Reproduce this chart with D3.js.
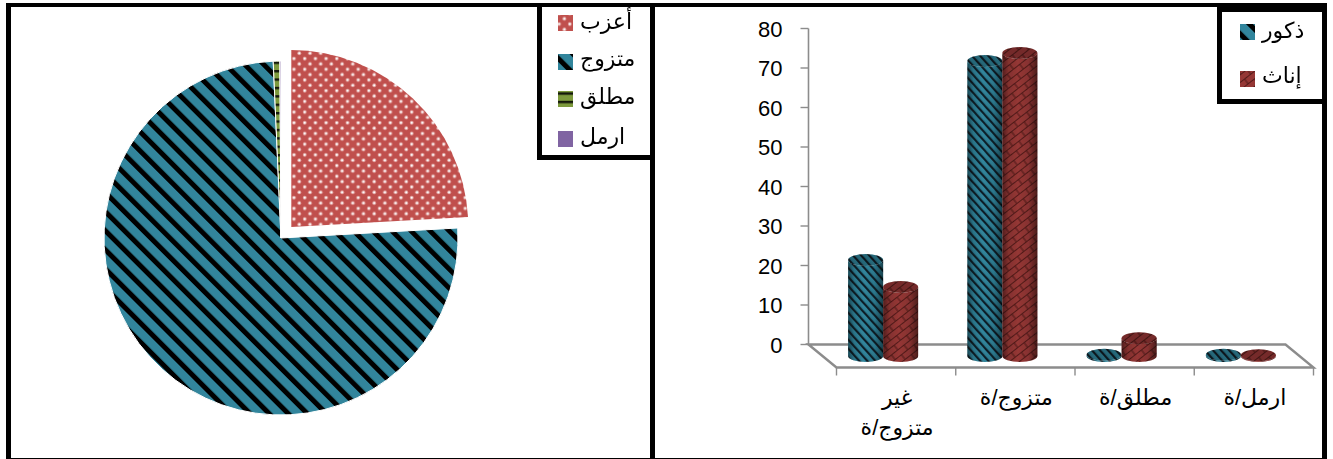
<!DOCTYPE html>
<html><head><meta charset="utf-8">
<script src="https://cdn.jsdelivr.net/npm/d3@7"></script>
<style>html,body{margin:0;padding:0;background:#fff;overflow:hidden}svg{display:block}
text{font-family:"Liberation Sans","DejaVu Sans",sans-serif;fill:#000}</style></head>
<body><svg id="c" width="1333" height="459"></svg>
<script>
// ---- data ----
const pieLabels = ["أعزب","متزوج","مطلق","ارمل"];
const pieValues = [24.1,75.2,0.6,0.1];
const barCategories = [["غير","متزوج/ة"],["متزوج/ة"],["مطلق/ة"],["ارمل/ة"]];
const seriesNames = ["ذكور","إناث"];
const maleValues = [24.3,74.7,0.3,0.3];
const femaleValues = [17.5,76.7,4.5,0.2];
const yTicks = [0,10,20,30,40,50,60,70,80];

const svg = d3.select("#c");
const defs = svg.append("defs");

function stripes(id,w,bw,bg,fg,rot){
  const p=defs.append("pattern").attr("id",id).attr("patternUnits","userSpaceOnUse")
    .attr("width",w).attr("height",w).attr("patternTransform",`rotate(${rot})`);
  p.append("rect").attr("width",w).attr("height",w).attr("fill",bg);
  p.append("rect").attr("width",bw).attr("height",w).attr("fill",fg);
}
stripes("pBlue",13.5,5,"#31859c","#000",-45);
stripes("pBlueCyl",6,2.2,"#31859c","#0b1f28",-42);
// dots
{const p=defs.append("pattern").attr("id","pDots").attr("patternUnits","userSpaceOnUse").attr("width",10.7).attr("height",10.7);
 p.append("rect").attr("width",10.7).attr("height",10.7).attr("fill","#c0504d");
 [[2.7,2.7],[8,8]].forEach(c=>{
  p.append("circle").attr("cx",c[0]).attr("cy",c[1]).attr("r",1.9).attr("fill","#e3a9a7");
  p.append("circle").attr("cx",c[0]).attr("cy",c[1]).attr("r",1).attr("fill","#fff");});}
// green
{const p=defs.append("pattern").attr("id","pGreen").attr("patternUnits","userSpaceOnUse").attr("width",16).attr("height",8.4);
 p.append("rect").attr("width",16).attr("height",8.4).attr("fill","#7d9a3c");
 p.append("rect").attr("width",16).attr("height",2.4).attr("fill","#14180a");}
// brick
{const p=defs.append("pattern").attr("id","pBrick").attr("patternUnits","userSpaceOnUse").attr("width",16).attr("height",12).attr("patternTransform","rotate(-38)");
 p.append("rect").attr("width",16).attr("height",12).attr("fill","#953735");
 const d="M0 0.5H16M0 6.5H16M4 0.5V6.5M12 6.5V12";
 p.append("path").attr("d",d).attr("stroke","#541b1a").attr("stroke-width",1.1).attr("fill","none");}
// cylinder shading
const sh=defs.append("linearGradient").attr("id","shade");
[[0,.45],[.18,.12],[.45,0],[.75,.1],[1,.5]].forEach(s=>sh.append("stop").attr("offset",s[0]).attr("stop-color","#000").attr("stop-opacity",s[1]));
// soft edges as in the photographed reference
defs.append("filter").attr("id","soft").attr("x","-5%").attr("y","-5%").attr("width","110%").attr("height","110%")
  .append("feGaussianBlur").attr("stdDeviation",0.55);

// ---- pie ----
const pieFills=["url(#pDots)","url(#pBlue)","url(#pGreen)","#8064a2"];
const pieCx=281,pieCy=238,pieR=177,explode=15;
const arcs=d3.pie().sort(null)(pieValues);
const arcGen=d3.arc().innerRadius(0).outerRadius(pieR);
svg.append("g").selectAll("path").data(arcs).join("path")
  .attr("transform",(d,i)=>{
    const m=(d.startAngle+d.endAngle)/2, e=i===0?explode:0;
    return `translate(${pieCx+e*Math.sin(m)},${pieCy-e*Math.cos(m)})`;})
  .attr("d",arcGen).attr("fill",(d,i)=>pieFills[i])
  .attr("stroke","#fff").attr("stroke-width",(d,i)=>i===0?0:1)
  .attr("filter","url(#soft)");

// ---- 3D column chart ----
const y=d3.scaleLinear().domain([0,80]).range([344.5,28.5]);
const depthX=28,depthY=23;
const x0=d3.scaleBand().domain(d3.range(barCategories.length)).range([836.5,1313.5]);
const xWallLeft=x0.range()[0]-depthX;
const axisCol="#8c8c8c";
const g=svg.append("g");
// floor
g.append("path").attr("d",d3.line()([
  [xWallLeft,y(0)],[xWallLeft+depthX,y(0)+depthY],[x0.range()[1],y(0)+depthY],[x0.range()[1]-depthX,y(0)]
])+"Z").attr("fill","none").attr("stroke",axisCol).attr("stroke-width",2.4);
g.append("line").attr("x1",xWallLeft).attr("x2",xWallLeft).attr("y1",y(80)).attr("y2",y(0)).attr("stroke",axisCol).attr("stroke-width",1.6);
// y ticks
const yt=g.selectAll("g.yt").data(yTicks).join("g").attr("class","yt").attr("transform",d=>`translate(0,${y(d)})`);
yt.append("line").attr("x1",xWallLeft-8).attr("x2",xWallLeft).attr("stroke",axisCol).attr("stroke-width",1.4);
yt.append("text").attr("x",xWallLeft-26).attr("text-anchor","end").attr("y",8).attr("font-size",22).text(d=>d);
// x ticks
g.selectAll("line.xt").data(d3.range(barCategories.length+1)).join("line").attr("class","xt")
  .attr("x1",i=>x0(0)+i*x0.step()).attr("x2",i=>x0(0)+i*x0.step())
  .attr("y1",y(0)+depthY).attr("y2",y(0)+depthY+8).attr("stroke",axisCol).attr("stroke-width",1.4);
// x labels
const xl=g.selectAll("text.xl").data(barCategories).join("text").attr("class","xl")
  .attr("text-anchor","middle").attr("font-size",22);
xl.each(function(lines,i){
  lines.forEach((t,k)=>d3.select(this).append("tspan")
    .attr("x",x0(i)+x0.bandwidth()/2+1).attr("y",405+k*30).text(t));
});
// cylinders
const rx=17.5,ry=6,baseY=y(0)+11.5,shiftX=-13;
function cylinder(parent,cx,v,fill,topFill){
  const top=baseY-(y(0)-y(v));
  const body=`M${cx-rx},${top}L${cx-rx},${baseY}A${rx},${ry} 0 0 0 ${cx+rx},${baseY}L${cx+rx},${top}A${rx},${ry} 0 0 1 ${cx-rx},${top}Z`;
  const gg=parent.append("g");
  gg.append("path").attr("d",body).attr("fill",fill);
  gg.append("path").attr("d",body).attr("fill","url(#shade)");
  gg.append("ellipse").attr("cx",cx).attr("cy",top).attr("rx",rx).attr("ry",ry).attr("fill",topFill);
  gg.append("ellipse").attr("cx",cx).attr("cy",top).attr("rx",rx).attr("ry",ry).attr("fill","#000").attr("opacity",.22);
}
const bars=svg.append("g").attr("filter","url(#soft)");
barCategories.forEach((c,i)=>{
  const mid=x0(i)+x0.bandwidth()/2+shiftX;
  cylinder(bars,mid-rx,maleValues[i],"url(#pBlueCyl)","url(#pBlueCyl)");
  cylinder(bars,mid+rx,femaleValues[i],"url(#pBrick)","url(#pBrick)");
});

// ---- frames ----
const blk=(x,y,w,h)=>svg.append("rect").attr("x",x).attr("y",y).attr("width",w).attr("height",h).attr("fill","#000");
blk(6,3,1321,4);      // top
blk(6,3,5,456);       // left
blk(650,3,5,456);     // divider
blk(1322,3,5,456);    // right
blk(6,458,1321,1);    // bottom

// left legend
blk(537,7,5,153); blk(537,155,115,5);
const legL=svg.append("g");
const swY=[15,54,91,131], txY=[29,66,104,144];
legL.selectAll("rect").data(pieLabels).join("rect").attr("x",558).attr("width",15).attr("height",16)
  .attr("y",(d,i)=>swY[i]).attr("fill",(d,i)=>pieFills[i]);
legL.selectAll("text").data(pieLabels).join("text").attr("x",580).attr("y",(d,i)=>txY[i]).attr("font-size",22).text(d=>d);

// right legend
blk(1217,7,110,5); blk(1217,7,5,97); blk(1217,99,110,5);
const legR=svg.append("g");
const swR=[24,71], txR=[38,83], serFills=["url(#pBlue)","url(#pBrick)"];
legR.selectAll("rect").data(seriesNames).join("rect").attr("x",1240).attr("width",15).attr("height",16)
  .attr("y",(d,i)=>swR[i]).attr("fill",(d,i)=>serFills[i]);
legR.selectAll("text").data(seriesNames).join("text").attr("x",1262).attr("y",(d,i)=>txR[i]).attr("font-size",22).text(d=>d);
</script></body></html>
